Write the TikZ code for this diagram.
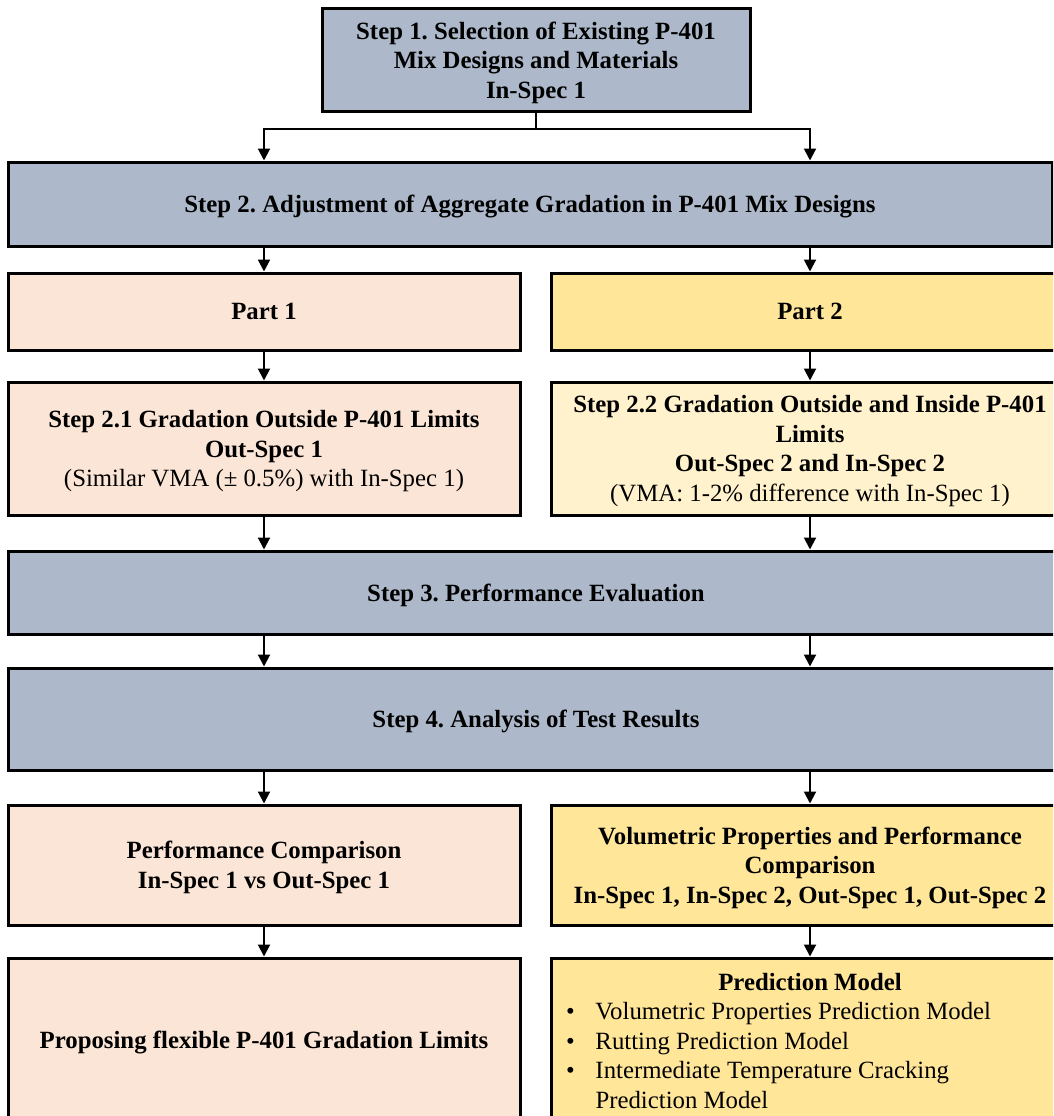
\documentclass[tikz,border=0pt]{standalone}
\usepackage{fontspec}
\setmainfont{Liberation Serif}
\usetikzlibrary{arrows.meta}
\definecolor{bluegray}{HTML}{ADB9CA}
\definecolor{peach}{HTML}{FBE5D6}
\definecolor{gold}{HTML}{FFE699}
\definecolor{lightgold}{HTML}{FFF2CC}
\newcommand\myfs{\fontsize{24.8pt}{29.5pt}\selectfont\frenchspacing}
\begin{document}
\begin{tikzpicture}[x=1pt,y=-1pt,
  box/.style={draw=black, line width=3pt, rectangle, inner sep=0pt, align=center, text depth=0pt, font=\myfs\bfseries},
  leftcol/.style={box, minimum width=512pt},
  rightcol/.style={box, minimum width=518pt},
  arr/.style={line width=2pt, -{Triangle[width=12pt,length=12pt]}},
  conn/.style={line width=2pt},
  txt/.style={inner sep=0pt, font=\myfs}
]
\useasboundingbox (0,0) rectangle (1053,1116);
\clip (0,0) rectangle (1053,1116);

% boxes
\node[box, fill=bluegray, minimum width=428pt, minimum height=102pt] (s1) at (536,60)
  {Step 1. Selection of Existing P-401\\Mix Designs and Materials\\In-Spec 1};
\node[box, fill=bluegray, minimum width=1044pt, minimum height=84pt] (s2) at (530,204)
  {Step 2. Adjustment of Aggregate Gradation in P-401 Mix Designs};
\node[leftcol, fill=peach, minimum height=77pt] (p1) at (264,311.5) {Part 1};
\node[rightcol, fill=gold, minimum height=77pt] (p2) at (810,311.5) {Part 2};
\node[leftcol, fill=peach, minimum height=133pt] (s21) at (264,448.5)
  {Step 2.1 Gradation Outside P-401 Limits\\Out-Spec 1\\{\mdseries (Similar VMA (± 0.5\%) with In-Spec 1)}};
\node[rightcol, fill=lightgold, minimum height=133pt] (s22) at (810,448.5)
  {Step 2.2 Gradation Outside and Inside P-401\\Limits\\Out-Spec 2 and In-Spec 2\\{\mdseries (VMA: 1-2\% difference with In-Spec 1)}};
\node[box, fill=bluegray, minimum width=1056pt, minimum height=83pt] (s3) at (536,592.5)
  {Step 3. Performance Evaluation};
\node[box, fill=bluegray, minimum width=1056pt, minimum height=102pt] (s4) at (536,719)
  {Step 4. Analysis of Test Results};
\node[leftcol, fill=peach, minimum height=120pt] (perf) at (264,865)
  {Performance Comparison\\In-Spec 1 vs Out-Spec 1};
\node[rightcol, fill=gold, minimum height=120pt] (vol) at (810,865)
  {Volumetric Properties and Performance\\Comparison\\In-Spec 1, In-Spec 2, Out-Spec 1, Out-Spec 2};
\node[leftcol, fill=peach, minimum height=164pt] (prop) at (264,1040)
  {Proposing flexible P-401 Gradation Limits};
\node[rightcol, fill=gold, minimum height=164pt] (pred) at (810,1040) {};
\node[txt, font=\myfs\bfseries] (predtitle) at (810,982) {Prediction Model};
\node[txt, anchor=north west, align=left] (predlist) at (566,1002.5)
  {\makebox[29.3pt][l]{•}Volumetric Properties Prediction Model\\
   \makebox[29.3pt][l]{•}Rutting Prediction Model\\
   \makebox[29.3pt][l]{•}Intermediate Temperature Cracking\\
   \hspace*{29.3pt}Prediction Model};

% connectors
\coordinate (j1) at (536,129);
\draw[conn] (s1.south) -- (j1);
\draw[arr] (j1) -| (s2.north -| p1.north);
\draw[arr] (j1) -| (s2.north -| p2.north);
\draw[arr] (s2.south -| p1.north) -- (p1.north);
\draw[arr] (s2.south -| p2.north) -- (p2.north);
\draw[arr] (p1.south) -- (s21.north);
\draw[arr] (p2.south) -- (s22.north);
\draw[arr] (s21.south) -- (s3.north -| s21.south);
\draw[arr] (s22.south) -- (s3.north -| s22.south);
\draw[arr] (s3.south -| p1.north) -- (s4.north -| p1.north);
\draw[arr] (s3.south -| p2.north) -- (s4.north -| p2.north);
\draw[arr] (s4.south -| perf.north) -- (perf.north);
\draw[arr] (s4.south -| vol.north) -- (vol.north);
\draw[arr] (perf.south) -- (prop.north);
\draw[arr] (vol.south) -- (pred.north);
\end{tikzpicture}
\end{document}
